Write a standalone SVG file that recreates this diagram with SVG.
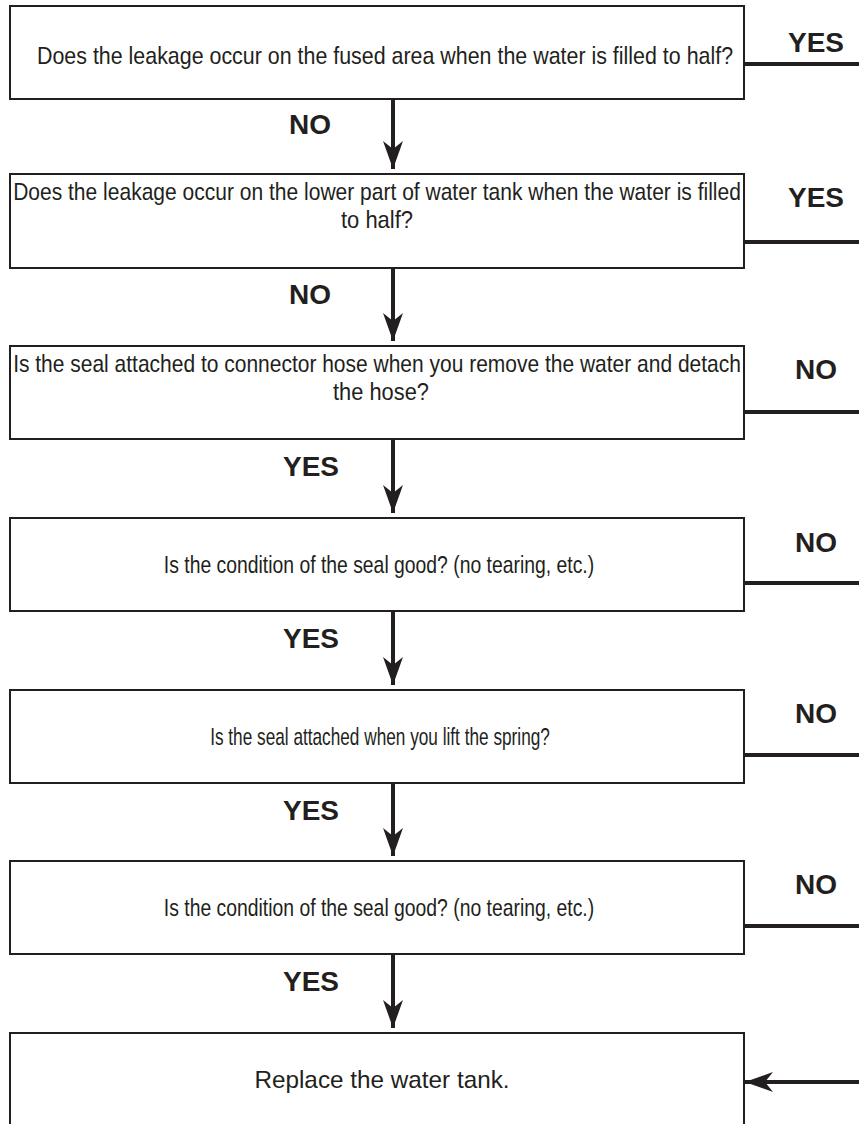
<svg xmlns="http://www.w3.org/2000/svg" width="859" height="1124" viewBox="0 0 859 1124">
<style>
.box{fill:#fff;stroke:#231f20;stroke-width:2}
.q{font-family:"Liberation Sans",Arial,sans-serif;font-size:24px;fill:#231f20;text-anchor:middle}
.lbl{font-family:"Liberation Sans",Arial,sans-serif;font-size:28px;font-weight:bold;fill:#231f20;text-anchor:middle}
.ln{stroke:#231f20;stroke-width:4;fill:none}
</style>
<defs>
<marker id="ah" viewBox="0 0 28 20" refX="28" refY="10" markerWidth="28" markerHeight="20" markerUnits="userSpaceOnUse" orient="auto">
<path d="M0,0 L28,10 L0,20 L8,10 Z" fill="#231f20"/>
</marker>
</defs>
<rect width="859" height="1124" fill="#fff"/>
<g id="n1"><rect class="box" x="10" y="6" width="734" height="93"/><text class="q" transform="translate(385,64) scale(0.88,1)" textLength="791" lengthAdjust="spacingAndGlyphs">Does the leakage occur on the fused area when the water is filled to half?</text></g>
<g id="n2"><rect class="box" x="10" y="174" width="734" height="94"/><text class="q" transform="translate(377,200) scale(0.88,1)" textLength="827" lengthAdjust="spacingAndGlyphs">Does the leakage occur on the lower part of water tank when the water is filled</text><text class="q" transform="translate(377,228) scale(0.88,1)" textLength="82" lengthAdjust="spacingAndGlyphs">to half?</text></g>
<g id="n3"><rect class="box" x="10" y="346" width="734" height="93"/><text class="q" transform="translate(377,372) scale(0.88,1)" textLength="827" lengthAdjust="spacingAndGlyphs">Is the seal attached to connector hose when you remove the water and detach</text><text class="q" transform="translate(381,400) scale(0.88,1)" textLength="109" lengthAdjust="spacingAndGlyphs">the hose?</text></g>
<g id="n4"><rect class="box" x="10" y="518" width="734" height="93"/><text class="q" transform="translate(379,573) scale(0.88,1)" textLength="489" lengthAdjust="spacingAndGlyphs">Is the condition of the seal good? (no tearing, etc.)</text></g>
<g id="n5"><rect class="box" x="10" y="690" width="734" height="93"/><text class="q" transform="translate(380,745) scale(0.88,1)" textLength="386" lengthAdjust="spacingAndGlyphs">Is the seal attached when you lift the spring?</text></g>
<g id="n6"><rect class="box" x="10" y="861" width="734" height="93"/><text class="q" transform="translate(379,916) scale(0.88,1)" textLength="489" lengthAdjust="spacingAndGlyphs">Is the condition of the seal good? (no tearing, etc.)</text></g>
<g id="n7"><rect class="box" x="10" y="1033" width="734" height="120"/><text class="q" transform="translate(382,1088) scale(0.88,1)" textLength="290" lengthAdjust="spacingAndGlyphs">Replace the water tank.</text></g>
<g id="connectors">
<line class="ln" x1="393" y1="99" x2="393" y2="169" marker-end="url(#ah)"/>
<line class="ln" x1="393" y1="268" x2="393" y2="341" marker-end="url(#ah)"/>
<line class="ln" x1="393" y1="439" x2="393" y2="513" marker-end="url(#ah)"/>
<line class="ln" x1="393" y1="611" x2="393" y2="685" marker-end="url(#ah)"/>
<line class="ln" x1="393" y1="783" x2="393" y2="856" marker-end="url(#ah)"/>
<line class="ln" x1="393" y1="954" x2="393" y2="1028" marker-end="url(#ah)"/>
<line class="ln" x1="745" y1="64" x2="859" y2="64"/>
<line class="ln" x1="745" y1="242" x2="859" y2="242"/>
<line class="ln" x1="745" y1="412" x2="859" y2="412"/>
<line class="ln" x1="745" y1="583" x2="859" y2="583"/>
<line class="ln" x1="745" y1="755" x2="859" y2="755"/>
<line class="ln" x1="745" y1="926" x2="859" y2="926"/>
<line class="ln" x1="859" y1="1082" x2="745" y2="1082" marker-end="url(#ah)"/>
</g>
<g id="labels">
<text class="lbl" x="310" y="134">NO</text>
<text class="lbl" x="310" y="304">NO</text>
<text class="lbl" x="311" y="476">YES</text>
<text class="lbl" x="311" y="648">YES</text>
<text class="lbl" x="311" y="820">YES</text>
<text class="lbl" x="311" y="991">YES</text>
<text class="lbl" x="816" y="52">YES</text>
<text class="lbl" x="816" y="207">YES</text>
<text class="lbl" x="816" y="379">NO</text>
<text class="lbl" x="816" y="552">NO</text>
<text class="lbl" x="816" y="723">NO</text>
<text class="lbl" x="816" y="894">NO</text>
</g>
</svg>
